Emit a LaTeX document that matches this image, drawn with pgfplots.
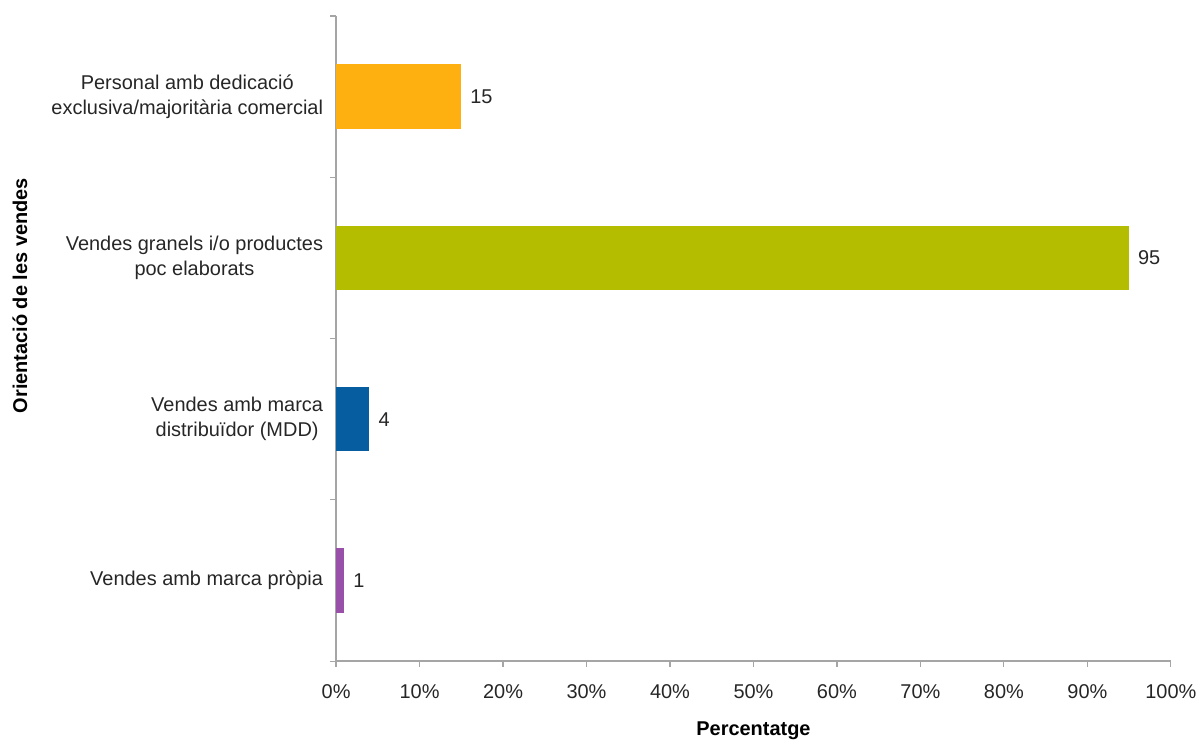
\documentclass[border=0pt]{standalone}
\usepackage{pgfplots}
\pgfplotsset{compat=1.18}
\usepackage{fontspec}
\setmainfont{Liberation Sans}
\definecolor{corange}{RGB}{253,176,16}
\definecolor{cgreen}{RGB}{181,189,0}
\definecolor{cblue}{RGB}{6,94,160}
\definecolor{cpurple}{RGB}{152,80,168}
\definecolor{axgray}{RGB}{165,165,165}
\begin{document}
\begin{tikzpicture}
\begin{axis}[
  scale only axis,
  width=418.5pt, height=323.5pt,
  xbar, bar shift=0pt,
  bar width=0.4,
  xmin=0, xmax=100,
  ymin=-0.5, ymax=3.5,
  axis x line*=bottom, axis y line*=left,
  axis line style={axgray, line width=0.8pt},
  xtick={0,10,...,100},
  xticklabel={\pgfmathprintnumber[assume math mode=true]{\tick}\%},
  ytick={0,1,2,3},
  yticklabels={Vendes amb marca pròpia, {Vendes amb marca\\distribuïdor (MDD)}, {Vendes granels i/o productes\\poc elaborats}, {Personal amb dedicació\\exclusiva/majoritària comercial}},
  yticklabel style={align=center, font=\fontsize{10}{12.5}\selectfont, text=black!85},
  xticklabel style={font=\fontsize{10}{12}\selectfont, text=black!85, yshift=-5pt},
  major y tick style={draw=none},
  minor ytick={-0.5,0.5,1.5,2.5,3.5},
  minor tick length=3pt,
  minor y tick style={axgray, line width=0.6pt},
  major tick length=3pt,
  major x tick style={axgray, line width=0.6pt},
  tick align=outside,
  xtick pos=bottom, ytick pos=left,
  xlabel={\textbf{Percentatge}},
  ylabel={\textbf{Orientació de les vendes}},
  xlabel style={font=\fontsize{10}{12}\selectfont, at={(axis description cs:0.5,0)}, anchor=center, yshift=-35pt},
  ylabel style={font=\fontsize{10}{12}\selectfont, at={(axis description cs:0,0.5)}, anchor=center, rotate=0, yshift=158.5pt, xshift=21.5pt},
  nodes near coords,
  nodes near coords style={font=\fontsize{10}{12}\selectfont, text=black!85, /pgf/number format/assume math mode=true},
  every node near coord/.append style={anchor=west, xshift=1pt},
  clip=false,
]
\addplot[fill=cpurple, draw=none] coordinates {(1,0)};
\addplot[fill=cblue, draw=none] coordinates {(4,1)};
\addplot[fill=cgreen, draw=none] coordinates {(95,2)};
\addplot[fill=corange, draw=none] coordinates {(15,3)};
\end{axis}
\path[use as bounding box] ([xshift=-168.5pt,yshift=-37pt]current axis.south west) rectangle ([xshift=14.5pt,yshift=8pt]current axis.north east);
\end{tikzpicture}
\end{document}
